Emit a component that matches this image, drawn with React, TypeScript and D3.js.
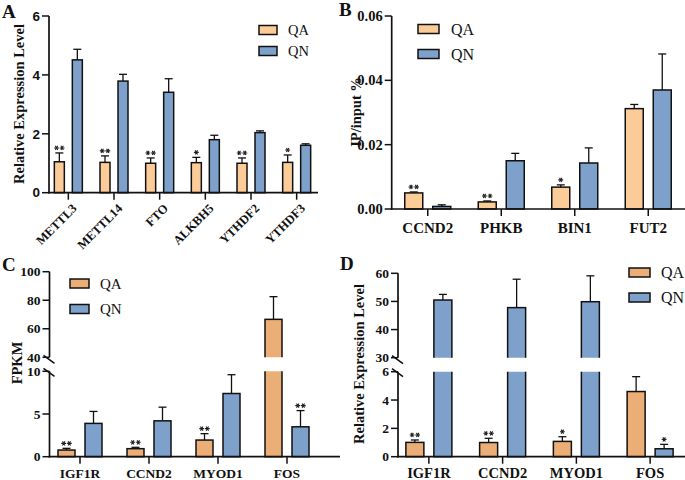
import * as d3 from 'd3';

const SERIF = '"Liberation Serif", "Times New Roman", serif';
const SANS = '"Liberation Sans", Arial, sans-serif';

const QA_LIGHT = '#FBCB98';
const QA_DARK = '#EBAE76';
const QN_BLUE = '#7EA1CB';
const INK = '#111';

// Panel A - m6A regulators
const genesA = ['METTL3', 'METTL14', 'FTO', 'ALKBH5', 'YTHDF2', 'YTHDF3'];
const qaA = [1.05, 1.03, 1.0, 1.02, 1.0, 1.03];
const qaErrA = [0.3, 0.22, 0.18, 0.18, 0.18, 0.25];
const qnA = [4.51, 3.79, 3.41, 1.8, 2.04, 1.61];
const qnErrA = [0.36, 0.23, 0.46, 0.15, 0.06, 0.05];
const qaStarsA = [2, 2, 2, 1, 2, 1];
const qnStarsA = [0, 0, 0, 0, 0, 0];
const ticksA = [0, 2, 4, 6];

// Panel B - MeRIP
const genesB = ['CCND2', 'PHKB', 'BIN1', 'FUT2'];
const qaB = [0.005, 0.0022, 0.0068, 0.0312];
const qaErrB = [0.0003, 0.0003, 0.0007, 0.0013];
const qnB = [0.0008, 0.015, 0.0143, 0.037];
const qnErrB = [0.0005, 0.0023, 0.0047, 0.0112];
const qaStarsB = [2, 2, 1, 0];
const qnStarsB = [0, 0, 0, 0];
const ticksB = [0, 0.02, 0.04, 0.06];

// Panel C - FPKM
const genesC = ['IGF1R', 'CCND2', 'MYOD1', 'FOS'];
const qaC = [0.78, 0.94, 1.95, 66.6];
const qaErrC = [0.2, 0.16, 0.75, 15.9];
const qnC = [3.9, 4.2, 7.4, 3.5];
const qnErrC = [1.4, 1.6, 2.2, 1.9];
const qaStarsC = [2, 2, 2, 0];
const qnStarsC = [0, 0, 0, 2];
const ticksCLow = [0, 5, 10];
const ticksCHigh = [40, 60, 80, 100];

// Panel D - qPCR
const genesD = ['IGF1R', 'CCND2', 'MYOD1', 'FOS'];
const qaD = [1.01, 1.0, 1.08, 4.6];
const qaErrD = [0.17, 0.3, 0.33, 1.05];
const qnD = [50.5, 47.8, 49.9, 0.56];
const qnErrD = [2.0, 10.1, 9.2, 0.31];
const qaStarsD = [2, 2, 1, 0];
const qnStarsD = [0, 0, 0, 1];
const ticksDLow = [0, 2, 4, 6];
const ticksDHigh = [30, 40, 50, 60];

const seriesNames = ['QA', 'QN'];

type Segment = { domain: [number, number]; range: [number, number]; ticks: number[] };
type Series = { values: number[]; errs: number[]; stars: number[]; color: string };
type Panel = {
  id: string;
  letter: string;
  letterPos: [number, number];
  cats: string[];
  xRange: [number, number];
  axisX: number;
  xEnd: number;
  segments: Segment[];
  fmt: (d: number) => string;
  tickFont: string;
  tickSize: number;
  labelSize: number;
  series: Series[];
  barW: number;
  offset: number;
  rotateLabels: boolean;
  labelY: number;
  yTitle: string;
  yTitlePos: [number, number];
  legend: { x: number; ys: number[]; w: number; textX: number; size: number };
};

const panels: Panel[] = [
  {
    id: 'a', letter: 'A', letterPos: [2, 18], cats: genesA, xRange: [45.5, 319.5], axisX: 49, xEnd: 318,
    segments: [{ domain: [0, 6], range: [192.7, 16], ticks: ticksA }],
    fmt: (d) => String(d), tickFont: SANS, tickSize: 13.5, labelSize: 12.5,
    series: [
      { values: qaA, errs: qaErrA, stars: qaStarsA, color: QA_LIGHT },
      { values: qnA, errs: qnErrA, stars: qnStarsA, color: QN_BLUE },
    ],
    barW: 10, offset: 9, rotateLabels: true, labelY: 203,
    yTitle: 'Relative Expression Level', yTitlePos: [24, 104],
    legend: { x: 259, ys: [30, 51], w: 18, textX: 288, size: 14.5 },
  },
  {
    id: 'b', letter: 'B', letterPos: [339, 16], cats: genesB, xRange: [391, 685], axisX: 391.7, xEnd: 685,
    segments: [{ domain: [0, 0.06], range: [209, 16], ticks: ticksB }],
    fmt: d3.format('.2f'), tickFont: SERIF, tickSize: 14.5, labelSize: 15,
    series: [
      { values: qaB, errs: qaErrB, stars: qaStarsB, color: QA_LIGHT },
      { values: qnB, errs: qnErrB, stars: qnStarsB, color: QN_BLUE },
    ],
    barW: 18, offset: 14, rotateLabels: false, labelY: 233,
    yTitle: 'IP/input %', yTitlePos: [361, 112],
    legend: { x: 418, ys: [29, 54], w: 21, textX: 451, size: 16 },
  },
  {
    id: 'c', letter: 'C', letterPos: [2, 271], cats: genesC, xRange: [45.5, 321.5], axisX: 49.5, xEnd: 340,
    segments: [
      { domain: [0, 10], range: [456.7, 371.3], ticks: ticksCLow },
      { domain: [40, 100], range: [357.3, 271.7], ticks: ticksCHigh },
    ],
    fmt: (d) => String(d), tickFont: SERIF, tickSize: 13.5, labelSize: 13.5,
    series: [
      { values: qaC, errs: qaErrC, stars: qaStarsC, color: QA_DARK },
      { values: qnC, errs: qnErrC, stars: qnStarsC, color: QN_BLUE },
    ],
    barW: 17, offset: 13.5, rotateLabels: false, labelY: 478,
    yTitle: 'FPKM', yTitlePos: [22, 363],
    legend: { x: 70, ys: [283.5, 309], w: 19, textX: 100, size: 15 },
  },
  {
    id: 'd', letter: 'D', letterPos: [340, 270], cats: genesD, xRange: [392, 687], axisX: 398, xEnd: 685,
    segments: [
      { domain: [0, 6], range: [456.7, 371.7], ticks: ticksDLow },
      { domain: [30, 60], range: [357.7, 273.3], ticks: ticksDHigh },
    ],
    fmt: (d) => String(d), tickFont: SERIF, tickSize: 13.5, labelSize: 14.5,
    series: [
      { values: qaD, errs: qaErrD, stars: qaStarsD, color: QA_DARK },
      { values: qnD, errs: qnErrD, stars: qnStarsD, color: QN_BLUE },
    ],
    barW: 18, offset: 14, rotateLabels: false, labelY: 478,
    yTitle: 'Relative Expression Level', yTitlePos: [364, 364],
    legend: { x: 629, ys: [272.5, 297.5], w: 21, textX: 661, size: 16 },
  },
];

const W = 685;
const H = 480;

// asterisk glyph for significance marks
const starSymbol = (d3 as any).symbolAsterisk
  ? d3.symbol().type((d3 as any).symbolAsterisk).size(16)()
  : null;

function Stars({ cx, y, n }: { cx: number; y: number; n: number }) {
  if (!n) return null;
  const gap = 5.6;
  const xs = d3.range(n).map((j) => cx + (j - (n - 1) / 2) * gap);
  if (!starSymbol) {
    return <text x={cx} y={y + 5} textAnchor="middle" fontFamily={SERIF} fontSize={12.5} fill="#222">{'*'.repeat(n)}</text>;
  }
  return (
    <g>
      {xs.map((sx, j) => (
        <path key={j} d={starSymbol as string} transform={`translate(${sx},${y}) rotate(90)`}
          fill="none" stroke="#222" strokeWidth={1.1} />
      ))}
    </g>
  );
}

function BarPanel({ p }: { p: Panel }) {
  const x = d3.scaleBand<string>().domain(p.cats).range(p.xRange);
  const segs = p.segments.map((s) => ({ ...s, y: d3.scaleLinear().domain(s.domain).range(s.range) }));
  const last = segs.length - 1;
  const multi = segs.length > 1;

  const segOf = (v: number) => {
    let idx = 0;
    segs.forEach((s, i) => {
      if (i > 0 && v > s.domain[0]) idx = i;
    });
    return idx;
  };

  const barX = (c: string, k: number) => (x(c) as number) + x.bandwidth() / 2 + (k === 0 ? -p.offset : p.offset);

  return (
    <g>
      <defs>
        {segs.map((s, si) => {
          const top = si === last ? 0 : s.range[1];
          const bottom = si === 0 ? H : s.range[0];
          return <clipPath key={si} id={`clip-${p.id}-${si}`}><rect x={0} y={top} width={W} height={bottom - top} /></clipPath>;
        })}
      </defs>

      {/* bars */}
      {p.series.map((ser, k) =>
        p.cats.map((c, i) => {
          const v = ser.values[i];
          const cx = barX(c, k);
          return segs.map((s, si) => {
            if (si > 0 && v <= s.domain[0]) return null;
            const top = v >= s.domain[1] && multi ? s.range[1] - 10 : s.y(v);
            const bottom = si === 0 ? s.y(s.domain[0]) : s.range[0] + 10;
            return (
              <rect key={`${k}-${i}-${si}`} clipPath={multi ? `url(#clip-${p.id}-${si})` : undefined}
                x={cx - p.barW / 2} y={top} width={p.barW} height={bottom - top}
                fill={ser.color} stroke={INK} strokeWidth={1.5} />
            );
          });
        })
      )}

      {/* error bars and stars */}
      {p.series.map((ser, k) =>
        p.cats.map((c, i) => {
          const v = ser.values[i];
          const e = ser.errs[i];
          const s = segs[segOf(v)];
          const cx = barX(c, k);
          const y0 = s.y(v);
          const y1 = s.y(v + e);
          return (
            <g key={`e-${k}-${i}`}>
              <line x1={cx} x2={cx} y1={y0} y2={y1} stroke={INK} strokeWidth={1.3} />
              <line x1={cx - 4} x2={cx + 4} y1={y1} y2={y1} stroke={INK} strokeWidth={1.3} />
              <Stars cx={cx} y={y1 - 5} n={ser.stars[i]} />
            </g>
          );
        })
      )}

      {/* y axis */}
      {segs.map((s, si) => (
        <g key={`ax-${si}`}>
          <line x1={p.axisX} x2={p.axisX} y1={s.range[0] + (si === 0 ? 0.8 : 0)} y2={s.range[1]} stroke={INK} strokeWidth={1.7} />
          {s.ticks.map((t) => (
            <g key={t}>
              <line x1={p.axisX - 7} x2={p.axisX} y1={s.y(t)} y2={s.y(t)} stroke={INK} strokeWidth={1.5} />
              <text x={p.axisX - 9} y={s.y(t)} dy="0.35em" textAnchor="end" fontFamily={p.tickFont}
                fontWeight="bold" fontSize={p.tickSize} fill={INK}>{p.fmt(t)}</text>
            </g>
          ))}
        </g>
      ))}
      {multi && (
        <g stroke={INK} strokeWidth={1.5}>
          <line x1={p.axisX - 6} y1={segs[1].range[0] - 2} x2={p.axisX + 5} y2={segs[1].range[0] + 6} />
          <line x1={p.axisX - 6} y1={segs[0].range[1] - 3} x2={p.axisX + 5} y2={segs[0].range[1] + 5} />
        </g>
      )}

      {/* x axis */}
      <line x1={p.axisX - 0.8} x2={p.xEnd} y1={segs[0].range[0]} y2={segs[0].range[0]} stroke={INK} strokeWidth={1.7} />
      {p.cats.map((c) => {
        const cx = (x(c) as number) + x.bandwidth() / 2;
        const y0 = segs[0].range[0];
        return (
          <g key={c}>
            <line x1={cx} x2={cx} y1={y0} y2={y0 + 7} stroke={INK} strokeWidth={1.5} />
            {p.rotateLabels ? (
              <text transform={`translate(${cx + 3},${p.labelY}) rotate(-45)`} textAnchor="end" dy="0.7em"
                fontFamily={SERIF} fontWeight="bold" fontSize={p.labelSize} fill={INK}>{c}</text>
            ) : (
              <text x={cx} y={p.labelY} textAnchor="middle" fontFamily={SERIF} fontWeight="bold" fontSize={p.labelSize} fill={INK}>{c}</text>
            )}
          </g>
        );
      })}

      {/* y title */}
      <text transform={`translate(${p.yTitlePos[0]},${p.yTitlePos[1]}) rotate(-90)`} textAnchor="middle"
        fontFamily={SERIF} fontWeight="bold" fontSize={14.5} fill={INK}>{p.yTitle}</text>

      {/* legend */}
      {p.series.map((ser, k) => (
        <g key={`lg-${k}`}>
          <rect x={p.legend.x} y={p.legend.ys[k] - 4.5} width={p.legend.w} height={9} fill={ser.color} stroke={INK} strokeWidth={1.5} />
          <text x={p.legend.textX} y={p.legend.ys[k]} dy="0.35em" fontFamily={SERIF} fontSize={p.legend.size} fill={INK}>{seriesNames[k]}</text>
        </g>
      ))}

      {/* panel letter */}
      <text x={p.letterPos[0]} y={p.letterPos[1]} fontFamily={SERIF} fontWeight="bold" fontSize={19} fill={INK}>{p.letter}</text>
    </g>
  );
}

export default function App() {
  return (
    <div style={{ position: 'absolute', left: 0, top: 0, width: W, height: H, background: '#fff' }}>
      <svg width={W} height={H} viewBox={`0 0 ${W} ${H}`} style={{ display: 'block' }}>
        <rect width={W} height={H} fill="#fff" />
        {panels.map((p) => <BarPanel key={p.id} p={p} />)}
      </svg>
    </div>
  );
}
